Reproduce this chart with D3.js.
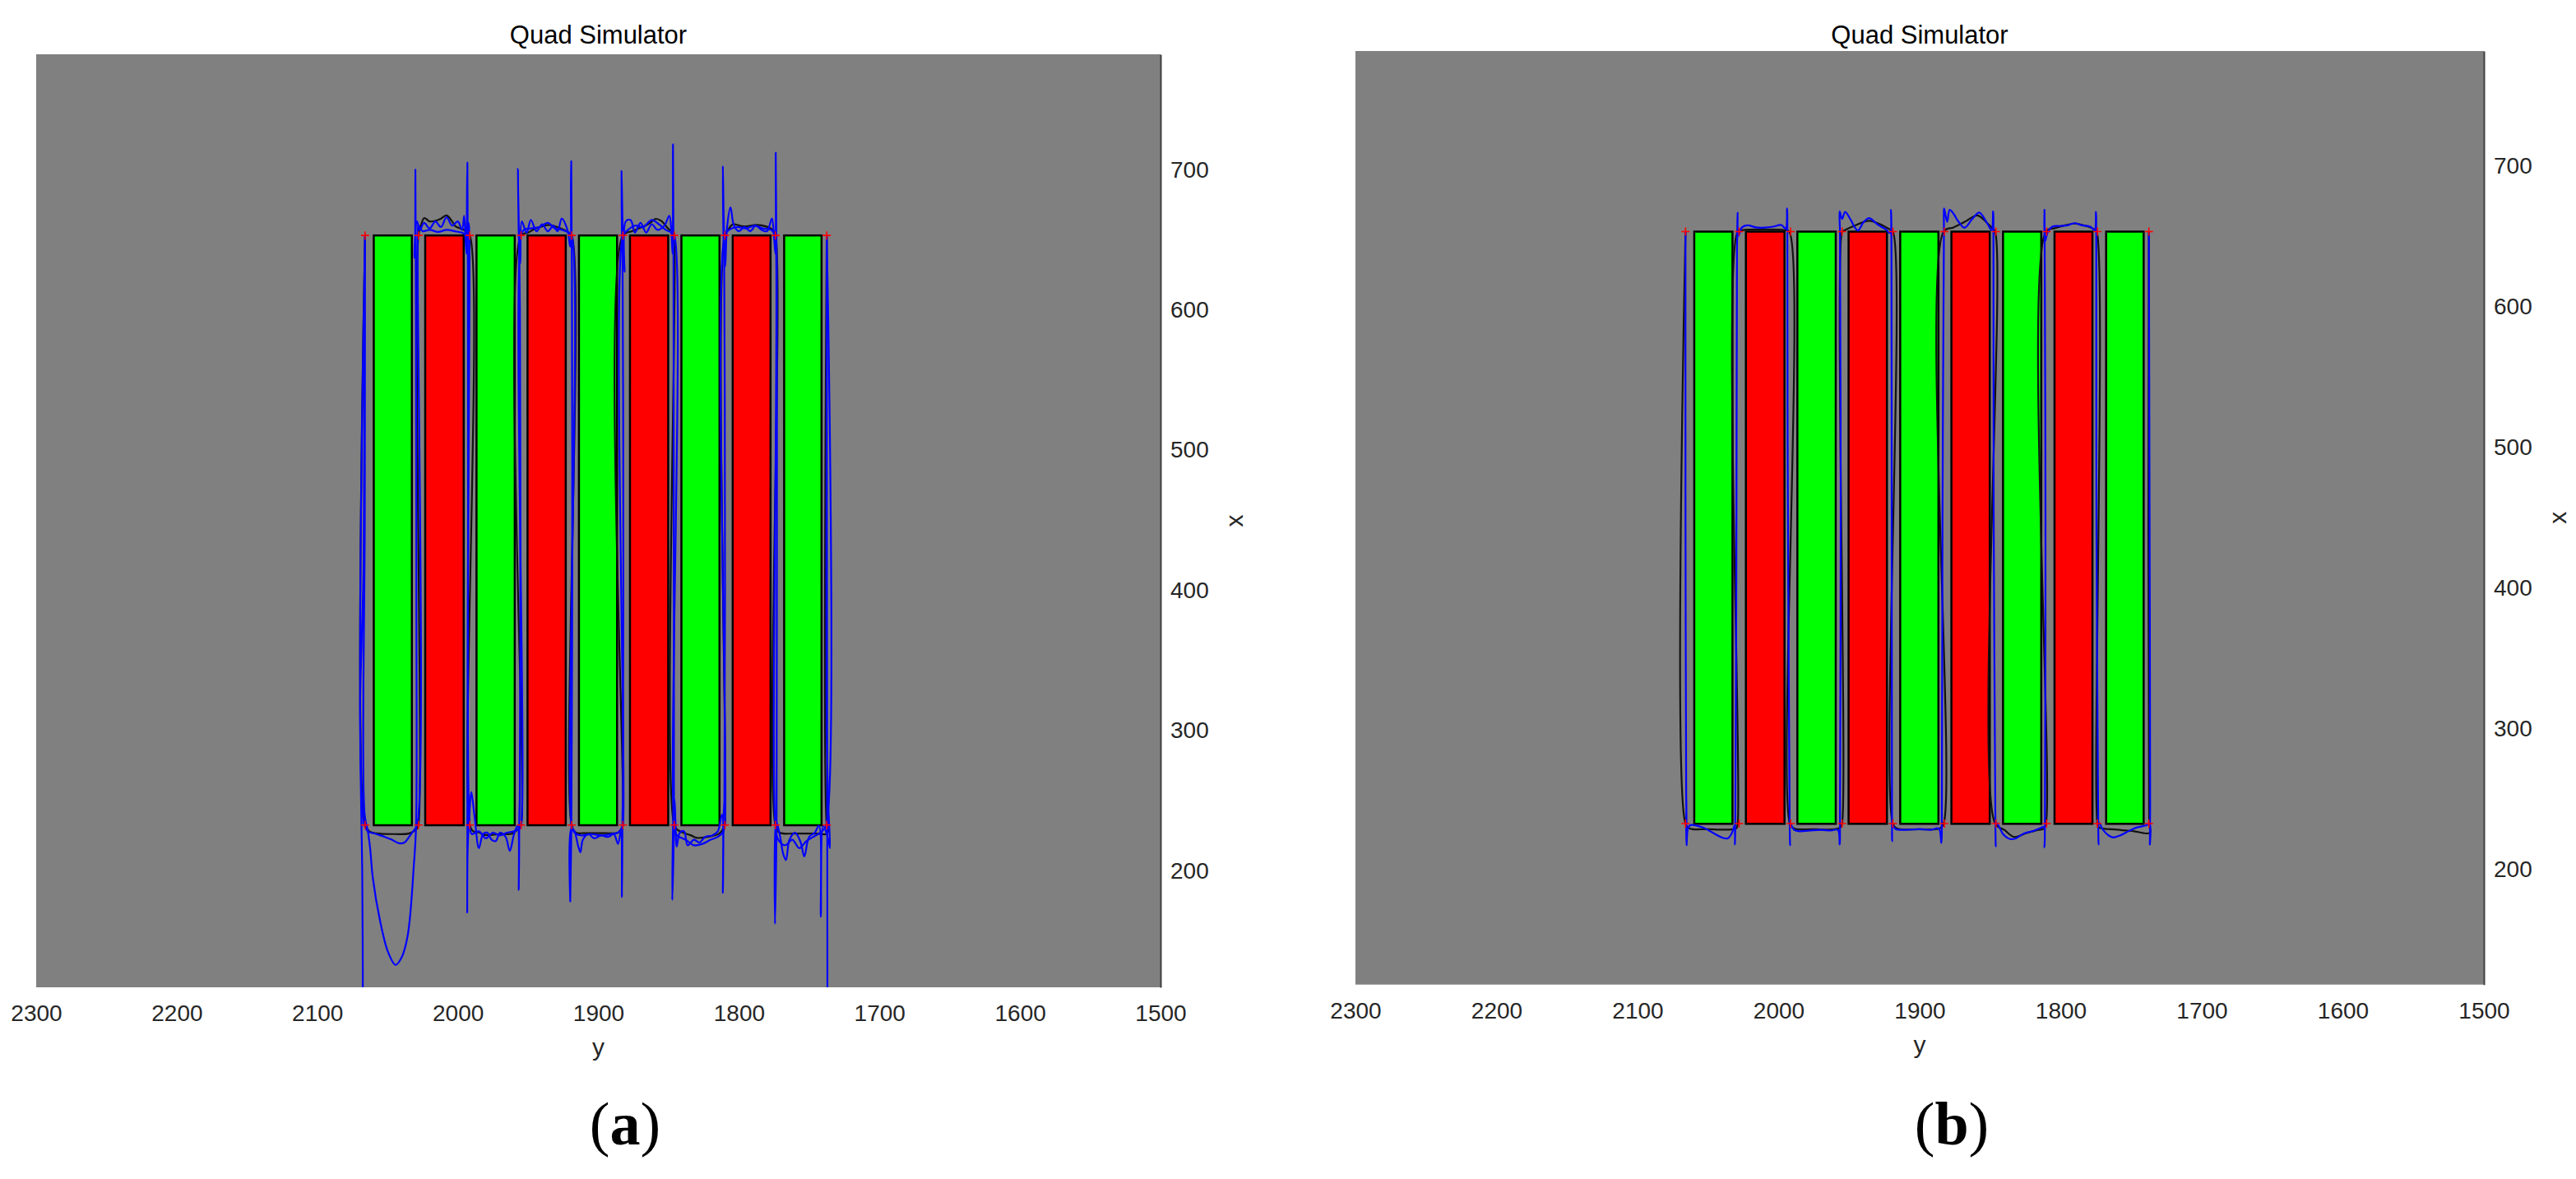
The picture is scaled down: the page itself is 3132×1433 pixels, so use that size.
<!DOCTYPE html>
<html>
<head>
<meta charset="utf-8">
<script src="https://cdn.jsdelivr.net/npm/d3@7"></script>
<style>
  body { margin: 0; background: #fff; }
</style>
</head>
<body>
<svg id="chart" width="3132" height="1433"></svg>
<script>
// axis ticks (horizontal axis is "y", vertical axis is "x")
const yTicks = [2300, 2200, 2100, 2000, 1900, 1800, 1700, 1600, 1500];
const xTicks = [200, 300, 400, 500, 600, 700];

// crop rows: y from / y to, and their x extent
const barStart = [2059.8, 2023.2, 1986.7, 1950.4, 1913.8, 1877.5, 1840.9, 1804.4, 1767.8];
const barEnd   = [2032.7, 1995.8, 1959.5, 1923.2, 1886.7, 1850.3, 1813.8, 1777.5, 1741.2];
const barKind  = ["A", "B", "A", "B", "A", "B", "A", "B", "A"];
const barSpan  = [232.3, 653];

// waypoints (red +)
const wayY = [2066, 2028, 1991.5, 1955, 1919, 1882.5, 1846, 1810, 1774, 1737.5];
const wayX = [653, 232.5];

// (a) flown paths, [y, x]
const blueA1 = [
  [2067.5, 90], [2068, 200], [2069, 260], [2069.5, 320], [2068.5, 360], [2067, 420], [2066.5, 560], [2066, 653],
  [2066.2, 450], [2066.3, 240],
  [2064, 228], [2062.4, 216], [2060.5, 195], [2055.6, 165.5], [2049.7, 142], [2044.3, 132.7], [2040, 138], [2035.6, 154], [2031.2, 205], [2029.7, 232],
  [2029.5, 400], [2029.8, 600], [2030, 653], [2030.2, 700], [2030.6, 640], [2031, 637], [2029, 663], [2027, 657], [2024, 662], [2020, 658], [2016, 663],
  [2012, 659], [2008, 666], [2004, 660], [2000, 663], [1997, 657], [1995.5, 667], [1994.5, 650], [1993.8, 640], [1993.5, 680], [1993.2, 705], [1993, 660],
  [1992.8, 627], [1992.7, 450],
  [1993, 300], [1993.2, 232], [1993.3, 170], [1993, 215], [1991.5, 245], [1990.4, 256], [1988, 238], [1985, 216], [1982, 226], [1979, 227], [1976, 222],
  [1973, 221], [1970, 227], [1966, 224], [1963, 214], [1960, 226], [1957.5, 232], [1956.6, 186], [1956.2, 240], [1955.9, 252],
  [1955.5, 450], [1955.8, 600], [1956.5, 653], [1957.2, 700.6], [1956.5, 650], [1955.5, 633], [1954.5, 663], [1951, 655], [1948, 664], [1944, 656],
  [1940, 661], [1936, 656], [1932, 660], [1929, 656], [1926, 665], [1922, 657], [1920, 645], [1919.5, 690], [1919.3, 706], [1919, 650], [1918.8, 630], [1918.6, 400],
  [1919.2, 232], [1920, 178], [1919.2, 230], [1917, 228], [1914.5, 218], [1912.8, 213], [1911, 222], [1907, 226], [1903, 223], [1898, 225], [1893, 224],
  [1889, 226], [1886, 219], [1884, 228], [1883.2, 181], [1882.8, 240], [1882.5, 252], [1882.3, 500],
  [1882.8, 640], [1883.2, 653], [1883.5, 699], [1882.5, 650], [1881.4, 627], [1880.5, 663], [1877, 664], [1874, 655], [1870, 662], [1866, 655], [1862, 661],
  [1858, 657], [1853, 660], [1849.5, 667], [1848, 655], [1847.2, 640], [1846.9, 718], [1846.6, 660], [1846.5, 623], [1846.3, 400],
  [1846.2, 232], [1847.4, 179], [1846.6, 240], [1845.8, 251], [1845, 230], [1844.3, 217], [1842, 227], [1839, 228], [1836.5, 218], [1832, 222], [1828, 220],
  [1824, 224], [1819, 225], [1815, 228], [1812, 240], [1811.4, 184], [1810.8, 240], [1810.3, 251], [1810, 500],
  [1810.5, 640], [1811, 653], [1811.4, 702.5], [1810.5, 650], [1809.7, 631], [1808.5, 658], [1806, 673], [1803.5, 660], [1800, 656], [1796, 659], [1792, 656],
  [1788, 660], [1784, 657], [1780, 656], [1776.5, 665], [1775, 652], [1774, 640], [1773.8, 712], [1773.4, 660], [1773, 630], [1773, 400],
  [1773.2, 232], [1774.3, 162], [1773.5, 235], [1771, 226], [1768.5, 212], [1766.5, 207.5], [1764, 222], [1760, 227], [1756, 220], [1753.5, 210], [1750, 224],
  [1746, 227], [1743, 232], [1741.7, 167], [1740, 232], [1736, 220], [1735.2, 216], [1736.3, 245], [1737.6, 300], [1737.6, 500], [1737.5, 653],
  [1737.4, 500], [1737.2, 300], [1737, 90]
];

const blueA2 = [
  [2066, 653], [2066.5, 232], [2064, 228], [2058, 226], [2052, 224], [2047, 222], [2042, 219.5], [2038, 220], [2034, 225], [2031, 229], [2029, 232],
  [2028.5, 653], [2028, 660], [2025, 656], [2020, 657], [2014, 655.5], [2008, 657], [2002, 656], [1997, 655], [1994, 653.5], [1992.3, 662], [1991.8, 653],
  [1991.5, 232], [1990, 226], [1985, 228], [1980, 223], [1975, 227], [1970, 225], [1965, 227], [1960, 228], [1956, 230], [1955, 232],
  [1955, 653], [1953, 657], [1948, 658], [1942, 659], [1936, 662], [1931, 658], [1926, 657], [1921, 655], [1919, 653],
  [1919, 232], [1917, 227], [1912, 225], [1905, 226], [1898, 225], [1891, 226], [1886, 227], [1883, 231], [1882.5, 232],
  [1882.5, 653], [1880, 656], [1874, 660], [1868, 659], [1862, 664], [1857, 661], [1852, 657], [1848, 655], [1846, 653],
  [1846, 232], [1844, 225], [1838, 222], [1832, 218], [1826, 219], [1820, 222], [1815, 224], [1811, 228], [1810, 232],
  [1810, 653], [1807, 657], [1801, 659], [1795, 658], [1789, 660], [1783, 658], [1777, 657], [1774.5, 654], [1774, 653],
  [1774, 232], [1772, 222], [1767, 218], [1762, 222], [1757, 216], [1752, 221], [1747, 224], [1741, 228], [1738, 232], [1737.5, 653]
];

// (a) reference path
const blackA1 = [
  [2066, 653], [2066, 232.5], [2063, 228], [2058, 226.5], [2045, 226], [2035, 226.4], [2029, 230], [2028, 232.5],
  [2028, 653], [2026, 661], [2023.8, 665.4], [2020, 663], [2016, 663.4], [2012, 665], [2008, 667.3], [2004, 663], [2001.6, 659.5], [1995, 656.6], [1991.5, 653],
  [1991.5, 232.5], [1989, 228], [1984.5, 227], [1982, 225.5], [1970, 226], [1961, 226.4], [1956, 231], [1955, 232.5],
  [1955, 653], [1950, 655], [1945.4, 657.6], [1940, 659.5], [1935, 660.5], [1928.4, 658.6], [1922, 655.7], [1919, 653],
  [1919, 232.5], [1916, 227], [1910, 226.7], [1895, 226.7], [1886, 227], [1883, 231], [1882.5, 232.5],
  [1882.5, 653], [1876, 656], [1869.6, 658.6], [1863, 662], [1859.2, 664.8], [1855.3, 663.4], [1850, 657.6], [1846.7, 655.7], [1846, 653],
  [1846, 232.5], [1843, 228.5], [1834.4, 225.2], [1830, 223.3], [1822, 224], [1814, 226.4], [1810.5, 231], [1810, 232.5],
  [1810, 653], [1807, 658], [1804.4, 660.9], [1796.6, 659.5], [1787.4, 660.5], [1780.9, 659.5], [1776, 657], [1774, 653],
  [1774, 232.5], [1771, 227], [1760, 226.4], [1745, 226.4], [1738, 226], [1736.5, 228], [1737.5, 232.5], [1737.5, 653]
];

// (b) flown path
const blueB1 = [
  [2066, 653], [2066, 450], [2065.5, 250],
  [2065.3, 232], [2065.4, 249], [2065.3, 217], [2064, 230], [2062, 231.5], [2054, 229.8], [2046.5, 225.9], [2040, 222.5], [2036, 222], [2033, 226],
  [2031.3, 231], [2030.9, 217.6], [2030.7, 235.7], [2030, 400],
  [2029.5, 640], [2029.3, 653], [2029.1, 666.5], [2028.5, 650], [2026, 656], [2022, 657.5], [2016, 656], [2010, 655.8], [2004, 656.5], [1998, 657.7],
  [1995, 655], [1994, 669.4], [1993.8, 645], [1993.6, 500],
  [1992.2, 240], [1991.9, 217], [1991.5, 232], [1989, 228], [1985, 227], [1978, 227.5], [1970, 228], [1963, 227.5], [1958, 228], [1956.7, 217.6],
  [1956.5, 236.7], [1956, 450],
  [1956.5, 653], [1956.7, 667.4], [1955, 662], [1952.8, 667], [1949, 661.6], [1946, 656], [1943.7, 653.8], [1939.8, 659.7], [1935.9, 662.6], [1932, 660],
  [1929.4, 657.7], [1924.2, 654.8], [1921, 652], [1920.3, 668.4], [1920, 640], [1919.8, 450],
  [1919.6, 232], [1919.5, 220], [1919.2, 231], [1917, 228.5], [1910, 228], [1900, 228.5], [1892, 228], [1886.5, 229], [1884.6, 218.7], [1884.3, 234], [1883.8, 450],
  [1882.8, 653], [1882.6, 669.4], [1880.5, 660], [1878.7, 668.4], [1875.5, 665], [1873.5, 661.6], [1868.2, 655.7], [1863, 661.6], [1857.8, 666.5],
  [1852.6, 659.7], [1849, 654], [1847.9, 667.4], [1847.7, 640], [1847.5, 450],
  [1846.3, 232], [1846.1, 216.2], [1845.6, 233], [1843, 229], [1840.9, 225], [1836, 221.5], [1831.8, 222], [1826, 225.5], [1820, 227], [1815, 229],
  [1812, 230], [1811.5, 215.6], [1811.2, 232], [1810.8, 450],
  [1811.4, 653], [1811.5, 668.4], [1811.2, 646], [1809, 653], [1806, 656.5], [1800, 657], [1795, 657.5], [1790, 659], [1785, 657.5], [1779, 656.5],
  [1776, 654], [1775, 667], [1774.8, 640], [1774.7, 450],
  [1773.4, 232], [1773.2, 217.6], [1772.8, 233], [1770, 228], [1766, 224], [1762.8, 222.6], [1758, 224], [1752, 227], [1745.9, 229.8], [1740, 231],
  [1737, 232], [1736.8, 217.6], [1736.6, 244.4], [1737, 450], [1737.5, 653]
];

// (b) reference path
const blackB1 = [
  [2066, 653], [2066, 232.5], [2063, 229], [2050, 228.5], [2035, 228.2], [2030, 229], [2029, 232.5],
  [2029, 653], [2026, 654], [2010, 654.5], [1996, 654], [1992.5, 653],
  [1992, 232.5], [1989, 229], [1975, 228.5], [1960, 228.5], [1956, 230], [1955, 232.5],
  [1955, 653], [1954.2, 653.5], [1945, 657.7], [1935.9, 660.7], [1926.8, 657.7], [1921.6, 654.8], [1919, 653],
  [1919, 232.5], [1916, 229], [1900, 228.5], [1886, 229], [1883, 232.5],
  [1883, 653], [1876, 656], [1868, 660], [1859.1, 664.5], [1852, 659], [1848.7, 655.7], [1846.5, 653],
  [1846.5, 232.5], [1840, 228], [1833.1, 223], [1825, 225.5], [1816, 228], [1812.2, 228.8], [1810.5, 232.5],
  [1810.5, 653], [1804, 655.5], [1797, 657.5], [1790.1, 658.7], [1782, 657], [1776, 654.5], [1774.5, 653],
  [1774, 232.5], [1773, 229.8], [1760, 228.2], [1748, 227], [1736.8, 225.9], [1737.3, 232.5], [1737.5, 653]
];

const titleText = "Quad Simulator";
const panelTags = ["a", "b"];

const sans = "'Liberation Sans', Arial, Helvetica, sans-serif";
const serif = "'Liberation Serif', 'Times New Roman', serif";

const panels = [
  { left: 44, right: 1411, top: 66, bottom: 1200, xLim: [116.7, 782.2], blue: [blueA1, blueA2], black: [blackA1], yLabelY: 1283, tagX: 760 },
  { left: 1648, right: 3020, top: 62, bottom: 1196.7, xLim: [118.1, 781.3], blue: [blueB1], black: [blackB1], yLabelY: 1280, tagX: 2373 }
];

const cropColor = d3.scaleOrdinal().domain(["A", "B"]).range(["#00ff00", "#ff0000"]);

const svg = d3.select("#chart");

panels.forEach((p, idx) => {
  const xs = d3.scaleLinear().domain([2300, 1500]).range([p.left, p.right]);
  const ys = d3.scaleLinear().domain(p.xLim).range([p.bottom, p.top]);
  const g = svg.append("g");

  const clipId = "clip" + idx;
  g.append("clipPath").attr("id", clipId)
    .append("rect")
    .attr("x", p.left).attr("y", p.top)
    .attr("width", p.right - p.left).attr("height", p.bottom - p.top);

  g.append("rect")
    .attr("x", p.left).attr("y", p.top)
    .attr("width", p.right - p.left).attr("height", p.bottom - p.top)
    .attr("fill", "#808080");

  const plot = g.append("g").attr("clip-path", `url(#${clipId})`);

  // crop rows
  plot.selectAll("rect.bar")
    .data(barStart.map((s, i) => ({ s: s, e: barEnd[i], k: barKind[i] })))
    .join("rect")
    .attr("class", "bar")
    .attr("x", d => xs(d.s))
    .attr("width", d => xs(d.e) - xs(d.s))
    .attr("y", ys(barSpan[1]))
    .attr("height", ys(barSpan[0]) - ys(barSpan[1]))
    .attr("fill", d => cropColor(d.k))
    .attr("stroke", "#000")
    .attr("stroke-width", 2.5);

  const line = d3.line()
    .x(d => xs(d[0]))
    .y(d => ys(d[1]))
    .curve(d3.curveCatmullRom.alpha(0.5));

  p.black.forEach(tr => {
    plot.append("path").attr("d", line(tr))
      .attr("fill", "none").attr("stroke", "#111").attr("stroke-width", 2.2)
      .attr("stroke-linejoin", "round");
  });

  p.blue.forEach(tr => {
    plot.append("path").attr("d", line(tr))
      .attr("fill", "none").attr("stroke", "#0000ff").attr("stroke-width", 2.2)
      .attr("stroke-linejoin", "round");
  });

  // waypoints
  const pts = [];
  wayY.forEach(y => wayX.forEach(x => pts.push([y, x])));
  plot.selectAll("path.wp")
    .data(pts)
    .join("path")
    .attr("class", "wp")
    .attr("transform", d => `translate(${xs(d[0])},${ys(d[1])})`)
    .attr("d", "M-5,0H5M0,-5V5")
    .attr("stroke", "#ff0000")
    .attr("stroke-width", 1.6)
    .attr("fill", "none");

  // bottom axis (y)
  const bx = g.append("g")
    .attr("transform", `translate(0,${p.bottom})`)
    .call(d3.axisBottom(xs).tickValues(yTicks).tickFormat(d3.format("d")).tickSize(0).tickPadding(21));
  bx.select(".domain").remove();
  bx.attr("font-size", 28).attr("font-family", sans);
  bx.selectAll("text").attr("fill", "#262626");

  // right axis (x)
  const rx = g.append("g")
    .attr("transform", `translate(${p.right},0)`)
    .call(d3.axisRight(ys).tickValues(xTicks).tickFormat(d3.format("d")).tickSize(0).tickSizeOuter(0).tickPadding(12));
  rx.select(".domain").attr("stroke", "#404040").attr("stroke-width", 2);
  rx.attr("font-size", 28).attr("font-family", sans);
  rx.selectAll("text").attr("fill", "#262626");

  // title
  g.append("text")
    .attr("x", (p.left + p.right) / 2).attr("y", 53)
    .attr("text-anchor", "middle")
    .attr("font-family", sans).attr("font-size", 31)
    .attr("fill", "#000")
    .text(titleText);

  // axis labels
  g.append("text")
    .attr("x", (p.left + p.right) / 2).attr("y", p.yLabelY)
    .attr("text-anchor", "middle")
    .attr("font-family", sans).attr("font-size", 30)
    .attr("fill", "#262626")
    .text("y");

  g.append("text")
    .attr("transform", `translate(${p.right + 92},${(p.top + p.bottom) / 2}) rotate(-90)`)
    .attr("dy", "0.26em")
    .attr("text-anchor", "middle")
    .attr("font-family", sans).attr("font-size", 30)
    .attr("fill", "#262626")
    .text("x");

  // panel tag
  const tag = g.append("text")
    .attr("x", p.tagX).attr("y", 1391)
    .attr("text-anchor", "middle")
    .attr("font-family", serif).attr("font-size", 74)
    .attr("fill", "#000");
  tag.append("tspan").text("(");
  tag.append("tspan").attr("font-weight", "bold").text(panelTags[idx]);
  tag.append("tspan").text(")");
});
</script>
</body>
</html>
